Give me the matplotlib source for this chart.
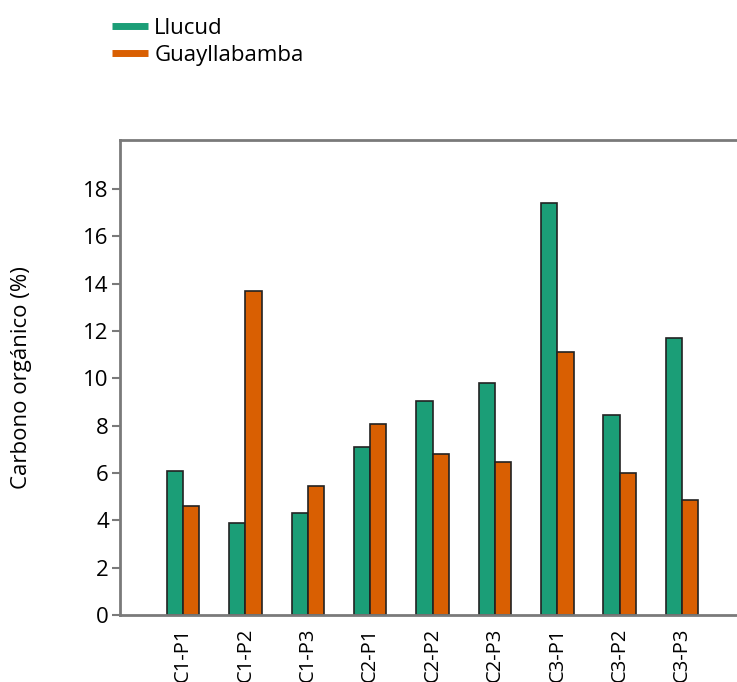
import numpy as np
import matplotlib
matplotlib.use("Agg")
from matplotlib import pyplot as plt
from matplotlib.lines import Line2D

plt.rcParams['font.family'] = ['Open Sans', 'DejaVu Sans']

sitios = ["C1-P1", "C1-P2", "C1-P3", "C2-P1", "C2-P2", "C2-P3", "C3-P1", "C3-P2", "C3-P3"]
llucud = [6.1, 3.9, 4.3, 7.1, 9.05, 9.8, 17.4, 8.45, 11.7]
guayllabamba = [4.6, 13.7, 5.45, 8.05, 6.8, 6.45, 11.1, 6.0, 4.85]

verde = "#1b9e77"
naranja = "#d95f02"
gris = "#7a7a7a"

fig = plt.figure(figsize=(7.37, 6.82), dpi=100)
ax = fig.add_axes([120/737, 1 - 615/682, 1 - 120/737, 475/682])

x = np.arange(len(sitios))
w = 0.26
ax.bar(x - w/2, llucud, w, color=verde, edgecolor="#222222", linewidth=1.2)
ax.bar(x + w/2, guayllabamba, w, color=naranja, edgecolor="#222222", linewidth=1.2)

ax.set_xlim(-1.01, 8.88)
ax.set_ylim(0, 20.07)
ax.set_yticks(range(0, 19, 2))
ax.set_xticks(x)
ax.set_xticklabels(sitios, rotation=90, fontsize=14.5)
ax.tick_params(axis='y', labelsize=16, length=6, width=1.5, color=gris, pad=2)
ax.tick_params(axis='x', length=0, pad=9)
ax.set_ylabel("Carbono orgánico (%)", fontsize=16)
ax.yaxis.set_label_coords(-0.143, 0.5)

for s in ["left", "top", "bottom"]:
    ax.spines[s].set_color(gris)
    ax.spines[s].set_linewidth(2)
ax.spines["right"].set_visible(False)

handles = [Line2D([], [], color=verde, lw=5, solid_capstyle="butt"),
           Line2D([], [], color=naranja, lw=5, solid_capstyle="butt")]
fig.legend(handles, ["Llucud", "Guayllabamba"], loc="upper left",
           bbox_to_anchor=(92/737, 1 + 2/682), frameon=False, fontsize=16,
           handlelength=1.6, handletextpad=0.3, labelspacing=0.25)

fig.savefig("out.png", dpi=100)
